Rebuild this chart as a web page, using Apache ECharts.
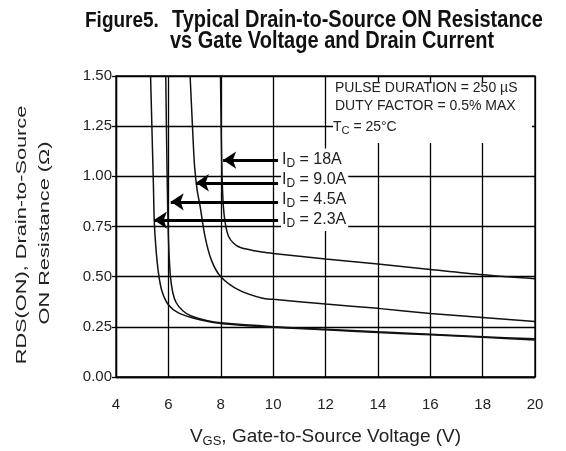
<!DOCTYPE html>
<html>
<head>
<meta charset="utf-8">
<script src="https://cdn.jsdelivr.net/npm/echarts@6/dist/echarts.min.js"></script>
<style>html,body{margin:0;padding:0;background:#fff}#c{width:566px;height:451px}</style>
</head>
<body>
<div id="c"></div>
<script>
// Tick values
var xTicks = [4, 6, 8, 10, 12, 14, 16, 18, 20];
var yTicks = [0, 0.25, 0.5, 0.75, 1.0, 1.25, 1.5];

// Curves: [VGS (V), RDS(ON) (ohm)]
var curve23 = [[5.32,1.5],[5.38,1.2],[5.43,0.95],[5.46,0.78],[5.52,0.65],[5.62,0.52],[5.75,0.43],[6.0,0.36],[6.4,0.318],[7.2,0.285],[8,0.267],[10,0.248],[12,0.235],[14,0.222],[16,0.21],[18,0.198],[20,0.185]];
var curve45 = [[5.9,1.5],[5.93,1.2],[5.96,0.95],[5.99,0.75],[6.03,0.6],[6.08,0.5],[6.17,0.42],[6.3,0.37],[6.55,0.33],[6.85,0.305],[7.5,0.28],[8,0.27],[10,0.251],[12,0.238],[14,0.225],[16,0.213],[18,0.201],[20,0.19]];
var curve90 = [[6.83,1.5],[6.92,1.25],[7.0,1.05],[7.1,0.93],[7.2,0.86],[7.4,0.70],[7.65,0.58],[8,0.50],[8.7,0.433],[9.6,0.392],[10,0.387],[12,0.364],[14,0.342],[16,0.317],[18,0.297],[20,0.276]];
var curve18 = [[7.99,1.5],[8.02,1.2],[8.05,1.0],[8.1,0.85],[8.18,0.76],[8.3,0.70],[8.5,0.665],[8.75,0.645],[9.5,0.624],[10,0.616],[12,0.588],[14,0.563],[16,0.536],[18,0.51],[20,0.49]];

// Arrow annotations: label, arrow y, arrow start x, arrow tip x, label y
var arrowNames = ['18A', '9.0A', '4.5A', '2.3A'];
var arrowY = [1.081, 0.968, 0.873, 0.782];
var arrowStart = [10.19, 10.19, 10.19, 10.19];
var arrowTip = [8.09, 7.05, 6.09, 5.45];
var labelX = [10.3, 10.3, 10.3, 10.3];
var labelY = [1.084, 0.982, 0.882, 0.782];

var curves = [curve18, curve90, curve45, curve23];

var FONT = 'Liberation Sans, Arial, sans-serif';
var TXT = '#222';

function makeSeries(i) {
  return {
    type: 'line',
    data: curves[i],
    smooth: 0.3,
    showSymbol: false,
    symbol: 'none',
    lineStyle: { color: '#111', width: 1.5 },
    z: 3,
    markLine: {
      silent: true,
      symbol: ['none', 'arrow'],
      symbolSize: 13,
      lineStyle: { color: '#000', width: 3, type: 'solid' },
      label: { show: false },
      z: 4,
      data: [[{ coord: [arrowStart[i], arrowY[i]] }, { coord: [arrowTip[i], arrowY[i]] }]]
    },
    markPoint: {
      silent: true,
      symbol: 'circle',
      symbolSize: 0,
      z: 5,
      data: [{ coord: [labelX[i], labelY[i]] }],
      label: {
        show: true,
        position: 'right',
        distance: 0,
        backgroundColor: '#fff',
        padding: [2, 2, 2, 1],
        formatter: '{a|I}{s|D}{a| = ' + arrowNames[i] + '}',
        rich: {
          a: { fontFamily: FONT, fontSize: 16, color: TXT, lineHeight: 18 },
          s: { fontFamily: FONT, fontSize: 12, color: TXT, padding: [8, 0, 0, 0], lineHeight: 10 }
        }
      }
    }
  };
}

var chart = echarts.init(document.getElementById('c'), null, { renderer: 'canvas' });
chart.setOption({
  animation: false,
  backgroundColor: '#fff',
  grid: { left: 116, right: 31, top: 76, bottom: 74, containLabel: false, outerBoundsMode: 'none',
    show: true, borderColor: '#000', borderWidth: 1.3, z: 2 },
  xAxis: {
    type: 'value', min: xTicks[0], max: xTicks[xTicks.length - 1], interval: 2,
    axisLine: { show: true, lineStyle: { color: '#000', width: 1.3 } },
    axisTick: { show: false },
    splitLine: { show: true, lineStyle: { color: '#000', width: 1.3 } },
    axisLabel: { margin: 20, fontFamily: FONT, fontSize: 15, color: TXT,
      formatter: function (v) { return xTicks.indexOf(v) >= 0 ? String(v) : ''; } },
    name: '{a|V}{s|GS}{a|, Gate-to-Source Voltage (V)}',
    nameLocation: 'middle',
    nameGap: 49,
    nameTextStyle: {
      rich: {
        a: { fontFamily: FONT, fontSize: 19, color: TXT, lineHeight: 22 },
        s: { fontFamily: FONT, fontSize: 13, color: TXT, padding: [9, 0, 0, 0], lineHeight: 13 }
      }
    }
  },
  yAxis: {
    type: 'value', min: yTicks[0], max: yTicks[yTicks.length - 1], interval: 0.25,
    axisLine: { show: true, lineStyle: { color: '#000', width: 1.3 } },
    axisTick: { show: true, inside: false, length: 4, lineStyle: { color: '#000', width: 1.3 } },
    splitLine: { show: true, lineStyle: { color: '#000', width: 1.3 } },
    axisLabel: { margin: 4, fontFamily: FONT, fontSize: 15, color: TXT,
      formatter: function (v) { return v.toFixed(2); } }
  },
  graphic: [
    { type: 'text', x: 85, y: 21, scaleY: 1.15, style: { text: 'Figure5.', font: 'bold 19px ' + FONT, fill: '#111', verticalAlign: 'middle' } },
    { type: 'text', x: 172, y: 21, scaleY: 1.15, style: { text: 'Typical Drain-to-Source ON Resistance', font: 'bold 20px ' + FONT, fill: '#111', verticalAlign: 'middle' } },
    { type: 'text', x: 170, y: 42, scaleY: 1.15, style: { text: 'vs Gate Voltage and Drain Current', font: 'bold 20px ' + FONT, fill: '#111', verticalAlign: 'middle' } },
    { type: 'text', x: 22, y: 235, rotation: Math.PI / 2, scaleX: 1.45,
      style: { text: 'RDS(ON), Drain-to-Source', font: '15px ' + FONT, fill: TXT, align: 'center', verticalAlign: 'middle' } },
    { type: 'text', x: 45, y: 233, rotation: Math.PI / 2, scaleX: 1.45,
      style: { text: 'ON Resistance (Ω)', font: '15px ' + FONT, fill: TXT, align: 'center', verticalAlign: 'middle' } },
    { type: 'rect', x: 333, y: 82, shape: { width: 199, height: 61 }, style: { fill: '#fff' }, z: 10 },
    { type: 'text', x: 335, y: 88.5, z: 11, style: { text: 'PULSE DURATION = 250 µS', font: '14px ' + FONT, fill: TXT, verticalAlign: 'middle' } },
    { type: 'text', x: 335, y: 106.5, z: 11, style: { text: 'DUTY FACTOR = 0.5% MAX', font: '14px ' + FONT, fill: TXT, verticalAlign: 'middle' } },
    { type: 'text', x: 333, y: 127, z: 11, style: {
      text: '{a|T}{s|C}{a| = 25°C}', verticalAlign: 'middle',
      rich: {
        a: { font: '14px ' + FONT, fill: TXT, lineHeight: 16 },
        s: { font: '11px ' + FONT, fill: TXT, padding: [7, 0, 0, 0], lineHeight: 9 }
      } } }
  ],
  series: [makeSeries(0), makeSeries(1), makeSeries(2), makeSeries(3)]
});
</script>
</body>
</html>
